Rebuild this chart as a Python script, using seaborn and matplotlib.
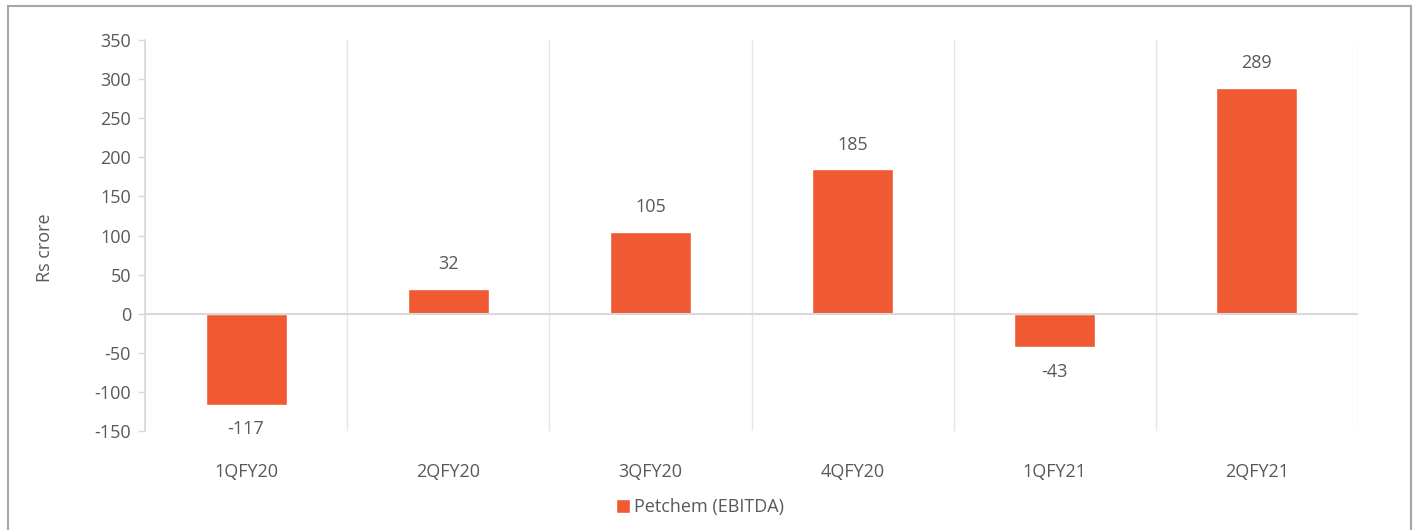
import matplotlib
matplotlib.use("Agg")
import matplotlib.pyplot as plt
import matplotlib.patches as mpatches
import seaborn as sns
import pandas as pd
import numpy as np

quarters = ["1QFY20", "2QFY20", "3QFY20", "4QFY20", "1QFY21", "2QFY21"]
values = [-117, 32, 105, 185, -43, 289]
series_name = "Petchem (EBITDA)"
y_ticks = [-150, -100, -50, 0, 50, 100, 150, 200, 250, 300, 350]

bar_color = "#F05A32"
text_color = "#595959"
grid_color = "#E6E6E6"
axis_color = "#D9D9D9"
fs = 13

sns.set_theme(style="white")
plt.rcParams["font.family"] = ["Open Sans", "DejaVu Sans"]

df = pd.DataFrame({"quarter": quarters, "value": values, "series": series_name})

fig = plt.figure(figsize=(14.18, 5.30), dpi=100)
ax = fig.add_axes([145 / 1418, 1 - 431 / 530, (1358 - 145) / 1418, (431 - 40) / 530])

sns.barplot(data=df, x="quarter", y="value", hue="series", palette=[bar_color],
            width=0.4, ax=ax, saturation=1, legend=True, zorder=3)

ax.set_xlim(-0.5, len(quarters) - 0.5)
ax.set_ylim(y_ticks[0], y_ticks[-1])
ax.set_yticks(y_ticks)
ax.set_yticklabels([str(t) for t in y_ticks], fontsize=fs, color=text_color)
ax.set_xticks(range(len(quarters)))
ax.set_xticklabels(quarters, fontsize=fs, color=text_color)
ax.tick_params(axis="x", length=0, pad=23)
ax.tick_params(axis="y", length=5, width=1, color=axis_color, pad=5, left=True)

# vertical gridlines between categories
ax.set_xticks(np.arange(-0.5, len(quarters), 1.0), minor=True)
ax.grid(False)
ax.xaxis.grid(True, which="minor", color=grid_color, linewidth=1, zorder=0)
ax.tick_params(axis="x", which="minor", length=0)

for s in ["top", "right", "bottom"]:
    ax.spines[s].set_visible(False)
ax.spines["left"].set_color(axis_color)
ax.spines["left"].set_linewidth(1.2)
ax.axhline(0, color=axis_color, linewidth=1.5, zorder=4)

ax.set_xlabel("")
ax.set_ylabel("")
fig.text(45 / 1418, 1 - 248 / 530, "Rs crore", rotation=90, ha="center", va="center",
         fontsize=fs, color=text_color)

for cont in ax.containers:
    ax.bar_label(cont, labels=[str(v) for v in values], padding=11, fontsize=fs,
                 color=text_color)

leg = ax.legend(loc="center", bbox_to_anchor=(700 / 1418, 1 - 507 / 530),
                bbox_transform=fig.transFigure, frameon=False, fontsize=fs,
                handlelength=0.8, handleheight=0.8, handletextpad=0.2)
for t in leg.get_texts():
    t.set_color(text_color)

fig.patches.append(mpatches.Rectangle((8 / 1418, -0.02), (1411 - 8) / 1418, 1.02 - 6 / 530,
                                      transform=fig.transFigure, fill=False,
                                      edgecolor="#A6A6A6", linewidth=1.5))

fig.savefig("out.png", dpi=100)
